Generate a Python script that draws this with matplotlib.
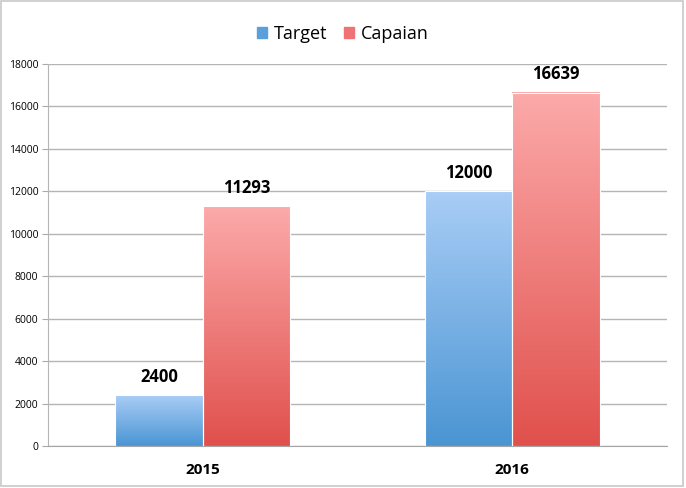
import numpy as np
import matplotlib

matplotlib.use("Agg")
import matplotlib.pyplot as plt
from matplotlib.colors import LinearSegmentedColormap
from matplotlib.patches import Rectangle

plt.rcParams["font.family"] = ["Open Sans", "DejaVu Sans"]

years = ["2015", "2016"]
target = [2400, 12000]
capaian = [11293, 16639]
series_names = ["Target", "Capaian"]

BLUE_TOP, BLUE_BOT = "#a9cdf6", "#4a95d3"
RED_TOP, RED_BOT = "#fcaaaa", "#e0504c"

fig = plt.figure(figsize=(6.86, 4.88), dpi=100)
ax = fig.add_axes([0.070, 0.086, 0.902, 0.783])

x = np.arange(len(years))
w = 0.283


def grad_bar(xc, h, top, bot):
    cmap = LinearSegmentedColormap.from_list("g", [bot, top])
    grad = np.linspace(0, 1, 256).reshape(-1, 1)
    ax.imshow(grad, cmap=cmap, origin="lower", aspect="auto",
              extent=(xc - w / 2, xc + w / 2, 0, h), zorder=3)
    ax.add_patch(Rectangle((xc - w / 2, 0), w, h, fill=False,
                           edgecolor="white", lw=0.8, zorder=4))


for i in range(len(years)):
    grad_bar(x[i] - w / 2, target[i], BLUE_TOP, BLUE_BOT)
    grad_bar(x[i] + w / 2, capaian[i], RED_TOP, RED_BOT)
    ax.text(x[i] - w / 2, target[i] + 450, f"{target[i]}", ha="center",
            va="bottom", fontsize=12, fontweight="bold", zorder=5)
    ax.text(x[i] + w / 2, capaian[i] + 450, f"{capaian[i]}", ha="center",
            va="bottom", fontsize=12, fontweight="bold", zorder=5)

ax.set_xlim(-0.5, 1.5)
ax.set_ylim(0, 18000)
ax.set_yticks(np.arange(0, 18001, 2000))
ax.tick_params(axis="y", labelsize=7.5, length=4, color="#aaaaaa", pad=3)
ax.set_xticks(x)
ax.set_xticklabels(years, fontsize=11, fontweight="bold")
ax.tick_params(axis="x", length=0, pad=12)
ax.grid(True, axis="y", color="#b5b5b5", lw=1.0, zorder=0)
for s in ["top", "right"]:
    ax.spines[s].set_visible(False)
ax.spines["left"].set_color("#b5b5b5")
ax.spines["bottom"].set_color("#a5a5a5")
ax.spines["bottom"].set_zorder(6)

handles = [Rectangle((0, 0), 1, 1, color="#5b9fdc"),
           Rectangle((0, 0), 1, 1, color="#ef7373")]
fig.legend(handles, series_names, loc="center", ncol=2,
           bbox_to_anchor=(0.5, 1 - 34 / 488), frameon=False, fontsize=13,
           handlelength=0.55, handleheight=0.55, handletextpad=0.4,
           columnspacing=0.9)

fig.add_artist(Rectangle((0.002, 0.004), 0.994, 0.993, transform=fig.transFigure,
                         fill=False, edgecolor="#c8c8c8", lw=1.2))

fig.savefig("out.png", dpi=100)
